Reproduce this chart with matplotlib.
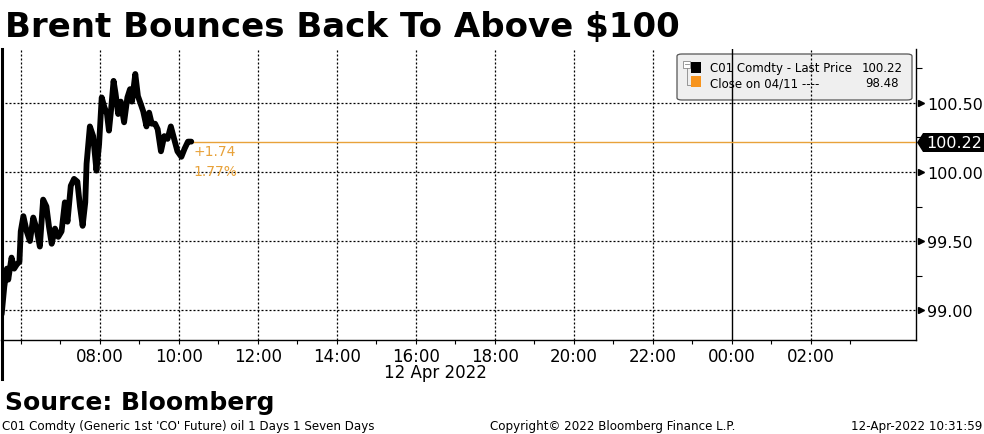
import numpy as np
import pandas as pd
import matplotlib
matplotlib.use("Agg")
import matplotlib.pyplot as plt
import matplotlib.dates as mdates
import matplotlib.transforms as mtransforms
from matplotlib.patches import FancyBboxPatch, Polygon, Rectangle
from matplotlib.lines import Line2D

# data (12 Apr 2022, CO1 Comdty intraday)
times = ["05:31", "05:35", "05:39", "05:41", "05:46", "05:50", "05:54", "05:58",
         "06:00", "06:04", "06:09", "06:14", "06:19", "06:24", "06:29", "06:34",
         "06:39", "06:43", "06:47", "06:52", "06:57", "07:02", "07:07", "07:11",
         "07:16", "07:21", "07:26", "07:30", "07:34", "07:38", "07:40", "07:45",
         "07:50", "07:55", "07:59", "08:03", "08:07", "08:11", "08:14", "08:17",
         "08:21", "08:24", "08:28", "08:32", "08:37", "08:42", "08:46", "08:49",
         "08:54", "08:58", "09:01", "09:06", "09:11", "09:15", "09:19", "09:24",
         "09:28", "09:33", "09:38", "09:43", "09:48", "09:53", "09:58", "10:04",
         "10:09", "10:14", "10:19"]
prices = [98.97, 99.17, 99.30, 99.22, 99.38, 99.30, 99.33, 99.35,
          99.57, 99.68, 99.57, 99.50, 99.67, 99.59, 99.46, 99.80,
          99.75, 99.60, 99.48, 99.59, 99.53, 99.57, 99.78, 99.64,
          99.90, 99.95, 99.93, 99.75, 99.61, 99.78, 100.06, 100.33,
          100.26, 100.01, 100.20, 100.54, 100.47, 100.42, 100.30, 100.44,
          100.66, 100.57, 100.42, 100.51, 100.36, 100.54, 100.60, 100.51,
          100.71, 100.55, 100.51, 100.44, 100.33, 100.43, 100.35, 100.35,
          100.31, 100.15, 100.26, 100.24, 100.33, 100.24, 100.15, 100.11,
          100.17, 100.22, 100.22]
prev_close = 98.48

y_ticks = [99.0, 99.5, 100.0, 100.5]
y_minor = [99.25, 99.75, 100.25, 100.75]
x_tick_labels = ["", "08:00", "10:00", "12:00", "14:00", "16:00",
                 "18:00", "20:00", "22:00", "00:00", "02:00"]

title = "Brent Bounces Back To Above $100"
series_name = "C01 Comdty - Last Price"
close_name = "Close on 04/11 ----"

W, H = 984, 435
BLACK = "#000000"
ORANGE = "#e8a23a"
ORANGE_SQ = "#f7941d"


def fx(x):
    return x / W


def fy(y):
    return 1 - y / H


t = pd.to_datetime(["2022-04-12 " + s for s in times])
x_start = pd.Timestamp("2022-04-12 05:30")
x_end = pd.Timestamp("2022-04-13 04:40")
last_t, last_p = t[-1], prices[-1]
chg = last_p - prev_close
pct = chg / prev_close * 100

fig = plt.figure(figsize=(W / 100, H / 100), dpi=100)
ax = fig.add_axes([fx(1), fy(341), (916 - 1) / W, (341 - 50) / H])
ax.set_facecolor("none")

ax.set_xlim(x_start, x_end)
ax.set_ylim(98.783, 100.891)

# grid
dots = (0, (1.6, 1.6))
for yv in y_ticks:
    ax.axhline(yv, color=BLACK, lw=0.9, ls=dots, zorder=1)
major_t = pd.date_range("2022-04-12 06:00", "2022-04-13 02:00", freq="2h")
minor_t = pd.date_range("2022-04-12 07:00", "2022-04-13 03:00", freq="2h")
for tv in major_t:
    if tv.hour == 0:
        ax.axvline(tv, color=BLACK, lw=1.0, zorder=1)
    else:
        ax.axvline(tv, color=BLACK, lw=0.9, ls=dots, zorder=1)

# price line and reference line
ax.plot(t, prices, color=BLACK, lw=4.2, solid_joinstyle="round",
        solid_capstyle="round", zorder=5)
ax.plot([last_t, x_end], [last_p, last_p], color=ORANGE, lw=1, zorder=4)
ax.annotate(f"+{chg:.2f}", xy=(last_t, last_p), xytext=(2, -9.5),
            textcoords="offset pixels", color=ORANGE, fontsize=10,
            ha="left", va="center")
ax.annotate(f"{pct:.2f}%", xy=(last_t, last_p), xytext=(2, -29),
            textcoords="offset pixels", color=ORANGE, fontsize=10,
            ha="left", va="center")

# axes / ticks
ax.xaxis.set_major_locator(matplotlib.ticker.FixedLocator(mdates.date2num(major_t)))
ax.xaxis.set_minor_locator(matplotlib.ticker.FixedLocator(mdates.date2num(minor_t)))
ax.set_xticklabels(x_tick_labels)
ax.tick_params(axis="x", which="both", direction="out", length=3, width=0.8,
               pad=2, labelsize=12)
ax.yaxis.tick_right()
ax.set_yticks(y_ticks)
ax.set_yticklabels([f"{v:.2f}" for v in y_ticks])
ax.set_yticks(y_minor, minor=True)
ax.tick_params(axis="y", which="major", length=0, pad=8, labelsize=11.5)
ax.tick_params(axis="y", which="minor", length=4, width=0.8, direction="out")
bl = mtransforms.blended_transform_factory(ax.transAxes, ax.transData)
ax.plot([1 + 4.5 / 915] * len(y_ticks), y_ticks, ls="none", marker=">",
        ms=5, color=BLACK, transform=bl, clip_on=False)

for s in ["top", "left"]:
    ax.spines[s].set_visible(False)
ax.spines["right"].set_linewidth(1)
ax.spines["bottom"].set_linewidth(1)

# thick left day separator
fig.add_artist(Line2D([fx(1.5), fx(1.5)], [fy(50), fy(380)], color=BLACK,
                      lw=2.2))

fig.text(fx(435), fy(373), "12 Apr 2022", ha="center", va="center", fontsize=12)

# legend box (drawn under the grid)
fig.add_artist(FancyBboxPatch((fx(677), fy(101)), fx(912) - fx(677),
                              fy(55) - fy(101),
                              boxstyle="round,pad=0,rounding_size=0.005",
                              fc="#efefef", ec="#555555", lw=0.9, zorder=-2))
fig.add_artist(Rectangle((fx(683), fy(68.5)), fx(7), fy(62) - fy(68.5),
                         fc="white", ec="#888888", lw=0.6, zorder=-1))
fig.add_artist(Line2D([fx(684.5), fx(688.5)], [fy(65.3), fy(65.3)],
                      color="#888888", lw=0.6, zorder=-1))
fig.add_artist(Line2D([fx(686.5), fx(686.5), fx(691)],
                      [fy(68.5), fy(86), fy(86)], color="#888888", lw=0.6,
                      zorder=-1))
fig.add_artist(Rectangle((fx(691), fy(74)), fx(10), fy(63) - fy(74),
                         fc=BLACK, ec="none", zorder=-1))
fig.add_artist(Rectangle((fx(691), fy(88)), fx(10), fy(77) - fy(88),
                         fc=ORANGE_SQ, ec="none", zorder=-1))
fig.text(fx(710), fy(68.5), series_name, fontsize=8.5, va="center", zorder=-1)
fig.text(fx(903), fy(68.5), f"{last_p:.2f}", fontsize=8.5, va="center",
         ha="right", zorder=-1)
fig.text(fx(710), fy(84), close_name, fontsize=8.5, va="center", zorder=-1)
fig.text(fx(899), fy(84), f"{prev_close:.2f}", fontsize=8.5, va="center",
         ha="right", zorder=-1)

# last price tag on the right axis
fig.add_artist(Polygon([(fx(917), fy(143.5)), (fx(923), fy(134)),
                        (fx(984), fy(134)), (fx(984), fy(153)),
                        (fx(923), fy(153))], closed=True, fc=BLACK, ec="none",
                       zorder=5))
fig.text(fx(926), fy(143.5), f"{last_p:.2f}", color="white", fontsize=11.5,
         va="center", ha="left", zorder=6)

# titles and footers
fig.text(fx(5), fy(37), title, fontsize=24.5, fontweight="bold",
         va="baseline", ha="left")
fig.text(fx(5), fy(410), "Source: Bloomberg", fontsize=18, fontweight="bold",
         va="baseline", ha="left")
fig.text(fx(2), fy(430), "C01 Comdty (Generic 1st 'CO' Future) oil 1 Days 1 Seven Days",
         fontsize=8.6, va="baseline", ha="left")
fig.text(fx(613), fy(430), "Copyright\u00a9 2022 Bloomberg Finance L.P.",
         fontsize=8.6, va="baseline", ha="center")
fig.text(fx(982), fy(430), "12-Apr-2022 10:31:59", fontsize=8.6,
         va="baseline", ha="right")

fig.savefig("out.png", dpi=100)
